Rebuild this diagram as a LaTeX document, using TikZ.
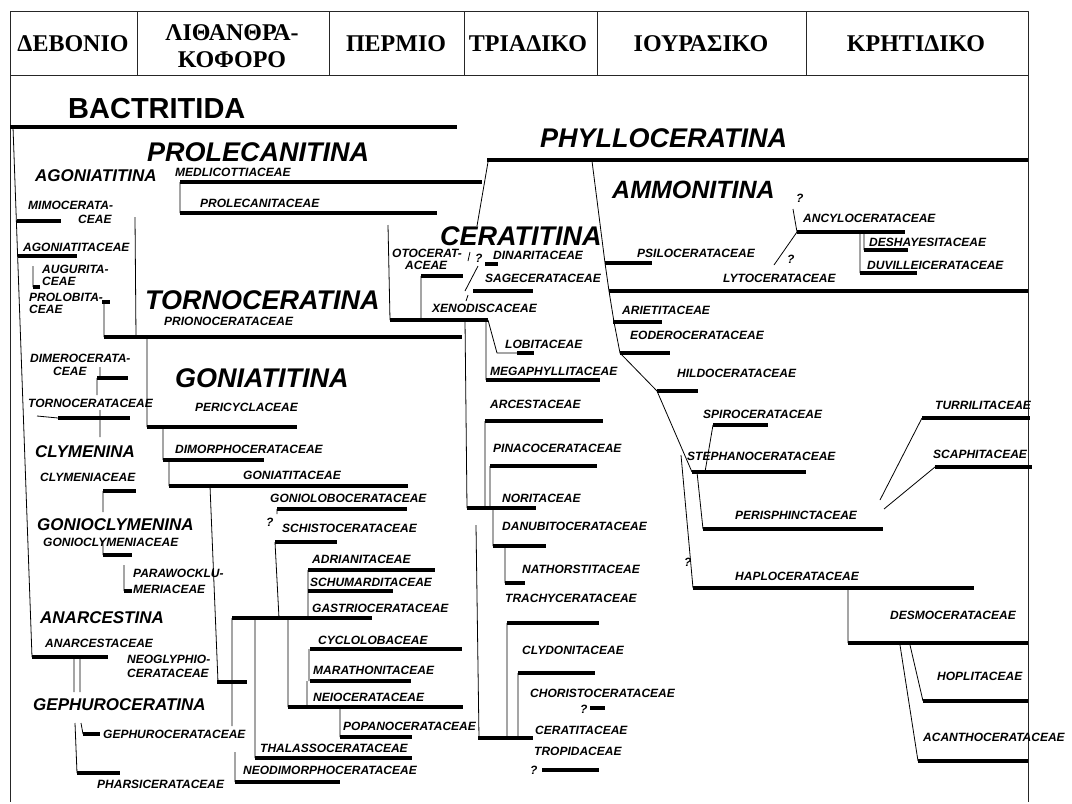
\documentclass[tikz,border=0pt]{standalone}
\usepackage{fontspec}
\setmainfont{Liberation Serif}
\newfontfamily\labelsans{Liberation Sans}

\begin{document}
\begin{tikzpicture}[x=1pt, y=-1pt, line join=round,
    fbar/.style={line width=3.8pt},
    twig/.style={line width=0.8pt},
    rim/.style={line width=1pt, black!85},
    fam/.style={anchor=west, inner sep=0pt, font=\labelsans\bfseries\itshape\fontsize{12}{12}\selectfont},
    subordo/.style={fam, font=\labelsans\bfseries\itshape\fontsize{17}{17}\selectfont},
    ordo/.style={fam, font=\labelsans\bfseries\itshape\fontsize{27}{27}\selectfont},
    period/.style={align=center, inner sep=0pt, font=\bfseries\fontsize{24}{27}\selectfont}]

\useasboundingbox (0,0) rectangle (1072,804);

% time scale
\draw[rim] (10,11) rectangle (1028,75);
\draw[rim] (10,75) -- (10,802) (1028,75) -- (1028,802);
\foreach \xx in {137,329,464,597,806} {
    \draw[rim] (\xx,11) -- (\xx,75);
}
\node[period] (dev) at (73,44) {ΔΕΒΟΝΙΟ};
\node[period] (carb) at (232,46) {ΛΙΘΑΝΘΡΑ-\\ΚΟΦΟΡΟ};
\node[period] (perm) at (396,44) {ΠΕΡΜΙΟ};
\node[period] (tria) at (528,44) {ΤΡΙΑΔΙΚΟ};
\node[period] (jura) at (701,44) {ΙΟΥΡΑΣΙΚΟ};
\node[period] (cret) at (916,44) {ΚΡΗΤΙΔΙΚΟ};

% orders and suborders
\node[fam, font=\labelsans\bfseries\fontsize{29}{29}\selectfont] (bactritida) at (68,109) {BACTRITIDA};
\foreach \nm/\xx/\yy/\txt in {prolecanitina/147/152/PROLECANITINA, phylloceratina/540/138/PHYLLOCERATINA,
    ceratitina/440/236/CERATITINA, tornoceratina/145/300/TORNOCERATINA, goniatitina/175/378/GONIATITINA} {
    \node[ordo] (\nm) at (\xx,\yy) {\txt};
}
\node[ordo, font=\labelsans\bfseries\itshape\fontsize{25}{25}\selectfont] (ammonitina) at (612,190) {AMMONITINA};
\foreach \nm/\xx/\yy/\txt in {agoniatitina/35/176/AGONIATITINA, clymenina/35/452/CLYMENINA,
    gonioclymenina/37/525/GONIOCLYMENINA, anarcestina/40/618/ANARCESTINA, gephuroceratina/33/705/GEPHUROCERATINA} {
    \node[subordo] (\nm) at (\xx,\yy) {\txt};
}

% superfamilies
\foreach \nm/\xx/\yy/\txt in {medl/175/172/MEDLICOTTIACEAE, prol/200/203/PROLECANITACEAE,
    mimoa/28/205/MIMOCERATA-, mimob/78/219/CEAE, agon/23/247/AGONIATITACEAE,
    augua/42/269/AUGURITA-, augub/42/281/CEAE, prlba/29/297/PROLOBITA-, prlbb/29/309/CEAE,
    prio/164/321/PRIONOCERATACEAE, dimea/30/358/DIMEROCERATA-, dimeb/53/371/CEAE,
    torn/28/403/TORNOCERATACEAE, peri/195/407/PERICYCLACEAE, dimo/175/449/DIMORPHOCERATACEAE,
    gont/243/475/GONIATITACEAE, clym/40/477/CLYMENIACEAE, golo/270/498/GONIOLOBOCERATACEAE,
    schi/282/528/SCHISTOCERATACEAE, gocl/43/542/GONIOCLYMENIACEAE,
    paraa/133/573/PARAWOCKLU-, parab/133/589/MERIACEAE, adri/312/559/ADRIANITACEAE,
    schu/310/582/SCHUMARDITACEAE, gast/312/608/GASTRIOCERATACEAE, cycl/318/640/CYCLOLOBACEAE,
    anar/45/643/ANARCESTACEAE, neoga/127/659/NEOGLYPHIO-, neogb/127/673/CERATACEAE,
    mara/313/670/MARATHONITACEAE, neio/313/697/NEIOCERATACEAE, popa/343/726/POPANOCERATACEAE,
    geph/103/734/GEPHUROCERATACEAE, thal/260/748/THALASSOCERATACEAE,
    neod/243/770/NEODIMORPHOCERATACEAE, phar/97/784/PHARSICERATACEAE,
    otoa/392/253/OTOCERAT-, otob/405/265/ACEAE, dina/493/255/DINARITACEAE,
    sage/485/278/SAGECERATACEAE, xeno/432/308/XENODISCACEAE, lobi/505/344/LOBITACEAE,
    mega/490/371/MEGAPHYLLITACEAE, arce/490/404/ARCESTACEAE, pina/493/448/PINACOCERATACEAE,
    nori/502/498/NORITACEAE, danu/502/526/DANUBITOCERATACEAE, nath/522/569/NATHORSTITACEAE,
    trac/505/598/TRACHYCERATACEAE, clyd/522/650/CLYDONITACEAE, chor/530/693/CHORISTOCERATACEAE,
    cera/535/730/CERATITACEAE, trop/534/751/TROPIDACEAE,
    psil/637/253/PSILOCERATACEAE, ancy/803/218/ANCYLOCERATACEAE, desh/869/242/DESHAYESITACEAE,
    duvi/867/265/DUVILLEICERATACEAE, lyto/723/278/LYTOCERATACEAE, arie/622/310/ARIETITACEAE,
    eode/630/335/EODEROCERATACEAE, hild/677/373/HILDOCERATACEAE, spir/703/414/SPIROCERATACEAE,
    turr/935/405/TURRILITACEAE, stph/687/456/STEPHANOCERATACEAE, scap/933/454/SCAPHITACEAE,
    pers/735/515/PERISPHINCTACEAE, hapl/735/576/HAPLOCERATACEAE, desm/890/615/DESMOCERATACEAE,
    hopl/937/676/HOPLITACEAE, acan/923/737/ACANTHOCERATACEAE} {
    \node[fam] (\nm) at (\xx,\yy) {\txt};
}

% doubtful links
\foreach \nm/\xx/\yy in {qa/796/198, qb/787/259, qc/475/258, qd/266/522, qe/684/562, qf/580/709, qg/530/770} {
    \node[fam] (\nm) at (\xx,\yy) {?};
}

% ranges
\foreach \xa/\xb/\yy in {10/457/127, 487/1028/160, 180/482/182, 180/437/213, 17/61/221, 18/77/256,
    33/40/287, 102/110/302, 104/462/337, 390/488/320, 421/463/276, 485/498/264, 473/533/291,
    517/534/353, 486/600/380, 485/603/421, 490/597/466, 467/536/508, 493/546/546, 505/525/583,
    478/533/738, 507/599/623, 518/595/673, 590/605/708, 542/599/770, 605/652/263, 609/1028/291,
    613/662/322, 620/670/353, 657/698/391, 713/768/425, 692/806/472, 703/883/529, 693/974/588,
    848/1028/643, 923/1028/701, 918/1028/761, 922/1030/418, 935/1032/467, 797/905/232,
    864/908/250, 860/917/273, 32/108/657, 77/120/773, 83/100/734, 147/297/427, 97/128/378,
    58/130/418, 103/136/491, 103/132/555, 124/132/591, 163/264/460, 169/408/486, 217/247/682,
    277/407/509, 275/337/542, 308/435/570, 308/393/591, 232/372/618, 235/340/782, 255/412/758,
    288/463/707, 310/411/681, 310/462/649, 340/412/737} {
    \draw[fbar] (\xa,\yy) -- (\xb,\yy);
}

% branches
\draw[twig]
    (13,127) -- (32,657)
    (135,217) -- (136,337)
    (180,182) -- (180,213)
    (33,266) -- (33,287)
    (104,302) -- (104,337)
    (147,337) -- (147,427)
    (100,367) -- (100,378) (97,378) -- (97,395)
    (37,416) -- (58,418)
    (100,410) -- (100,437)
    (103,491) -- (103,512)
    (103,540) -- (103,555)
    (124,565) -- (124,591)
    (74,657) -- (74,692) (80,657) -- (80,692)
    (75,723) -- (77,773)
    (81,723) -- (83,734)
    (163,427) -- (163,460)
    (169,460) -- (169,486)
    (210,486) -- (218,682)
    (277,509) -- (277,514)
    (275,542) -- (279,618)
    (308,570) -- (308,618)
    (232,618) -- (232,726)
    (235,752) -- (235,782)
    (255,618) -- (255,758)
    (288,618) -- (288,707)
    (307,681) -- (307,707)
    (309,649) -- (309,681)
    (340,707) -- (340,737);
\draw[twig]
    (388,225) -- (390,320)
    (421,276) -- (421,320)
    (488,320) -- (497,353) -- (517,353)
    (486,320) -- (486,380)
    (485,421) -- (485,508)
    (490,466) -- (490,508)
    (465,320) -- (467,508)
    (493,508) -- (493,546)
    (505,546) -- (505,583)
    (476,525) -- (479,738)
    (507,623) -- (507,738)
    (518,673) -- (518,738)
    (488,162) -- (477,226)
    (470,252) -- (468,261)
    (478,266) -- (465,291)
    (468,295) -- (466,301);
\draw[twig]
    (592,161) -- (605,263) -- (609,291) -- (614,322) -- (620,353) -- (657,391) -- (692,472)
    (713,425) -- (705,472)
    (697,472) -- (703,529)
    (681,455) -- (693,588)
    (848,588) -- (848,643)
    (910,645) -- (923,701)
    (900,645) -- (918,761)
    (880,500) -- (922,418)
    (884,509) -- (935,467)
    (793,209) -- (797,232) -- (774,265)
    (864,232) -- (864,250)
    (860,232) -- (860,273);

\end{tikzpicture}
\end{document}
